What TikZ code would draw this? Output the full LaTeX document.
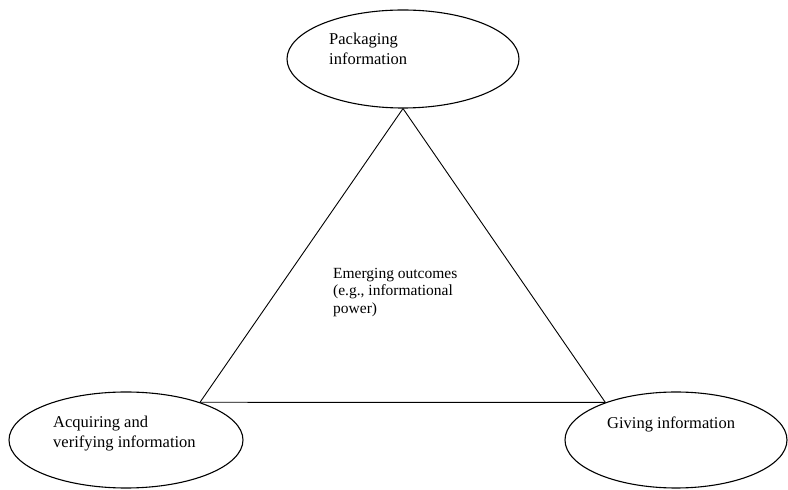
\documentclass[tikz,border=0pt]{standalone}
\usepackage{fontspec}
\setmainfont{Liberation Serif}
\usepackage{tikz}
\usetikzlibrary{shapes.geometric, positioning}

\begin{document}
\begin{tikzpicture}[
  x=1pt, y=1pt,
  oval/.style={ellipse, draw, line width=1.1pt, inner sep=0pt},
  txt/.style={align=left, anchor=north west, inner sep=0pt, font=\fontsize{16.5}{20}\selectfont},
  side/.style={line width=0.9pt},
]
\useasboundingbox (0,0) rectangle (788,490);

% Nodes
\node[oval, minimum width=232, minimum height=98] (pack) at (403,431) {};
\node[oval, minimum width=234, minimum height=96] (acq) at (126,50) {};
\node[oval, minimum width=222, minimum height=96] (give) at (676,50) {};
\node[txt] (packtxt) at (329,457) {Packaging\\information};
\node[txt] (acqtxt) at (53,74) {Acquiring and\\verifying information};
\node[txt] (givetxt) at (607,73) {Giving information};
\node[txt, font=\fontsize{15.5}{17.5}\selectfont] (outtxt) at (333,222) {Emerging outcomes\\(e.g., informational\\power)};
% Lines
\draw[side] (pack.south) -- (acq.27);
\draw[side] (acq.27) -- (give.152);
\draw[side] (give.152) -- (pack.south);
\end{tikzpicture}
\end{document}
